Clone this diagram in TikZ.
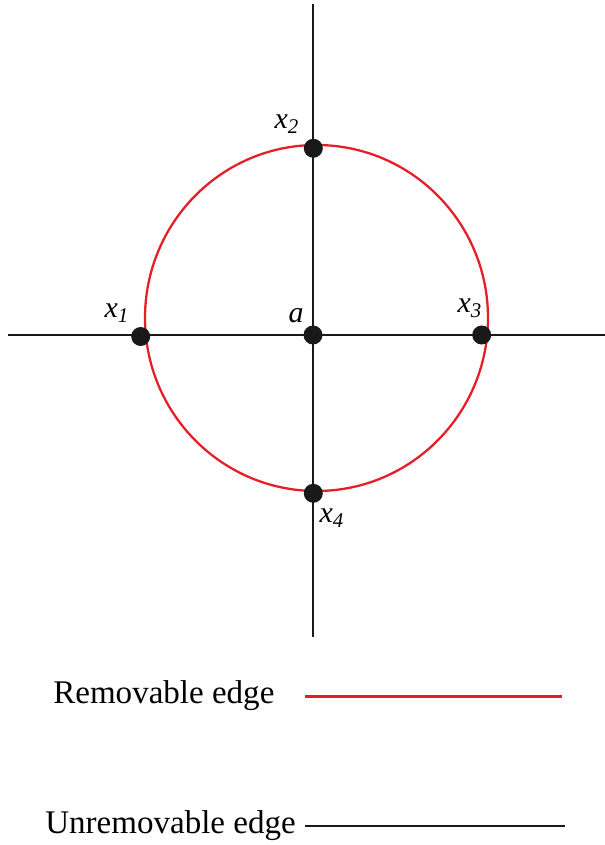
\documentclass[tikz,border=0pt]{standalone}
\usepackage{fontspec}
\setmainfont{Liberation Serif}
\usepackage{tikz}
\definecolor{edgered}{RGB}{230,30,40}

\begin{document}
\begin{tikzpicture}[x=0.02cm,y=-0.02cm,
  every node/.style={font=\fontsize{17}{20}\selectfont\itshape},
  vertex/.style={circle,fill=black!90,minimum size=0.38cm,inner sep=0pt},
  plain/.style={black!90,line width=1.3pt},
  removable/.style={edgered,line width=1.3pt},
  legend/.style={font=\fontsize{18.8}{22}\selectfont,anchor=base west,inner sep=0pt}]
\useasboundingbox (0,0) rectangle (605,845);
% axes
\coordinate (top) at (313,4);
\coordinate (bot) at (313,637);
\coordinate (left) at (8,335);
\coordinate (right) at (605,335);
\draw[plain] (top)--(bot);
\draw[plain] (left)--(right);
% the cycle
\draw[removable] (316.5,318) ellipse (171.5 and 173);
% vertices
\node[vertex] (a) at (313,335) {};
\node[vertex] (x1) at (140.7,336.5) {};
\node[vertex] (x2) at (313.3,148.3) {};
\node[vertex] (x3) at (481.7,335) {};
\node[vertex] (x4) at (313.3,493.3) {};
\node at (296,316) {a};
\node at (117,313) {x\textsubscript{1}};
\node at (287,124) {x\textsubscript{2}};
\node at (470,308) {x\textsubscript{3}};
\node at (332,518) {x\textsubscript{4}};
% legend
\node[legend] (rem) at (53,703) {Removable edge};
\node[legend] (unrem) at (45,833) {Unremovable edge};
\coordinate (r1) at (305,696.5);
\coordinate (r2) at (562,696.5);
\coordinate (u1) at (305,826);
\coordinate (u2) at (565,826);
\draw[removable] (r1)--(r2);
\draw[plain] (u1)--(u2);
\end{tikzpicture}
\end{document}
